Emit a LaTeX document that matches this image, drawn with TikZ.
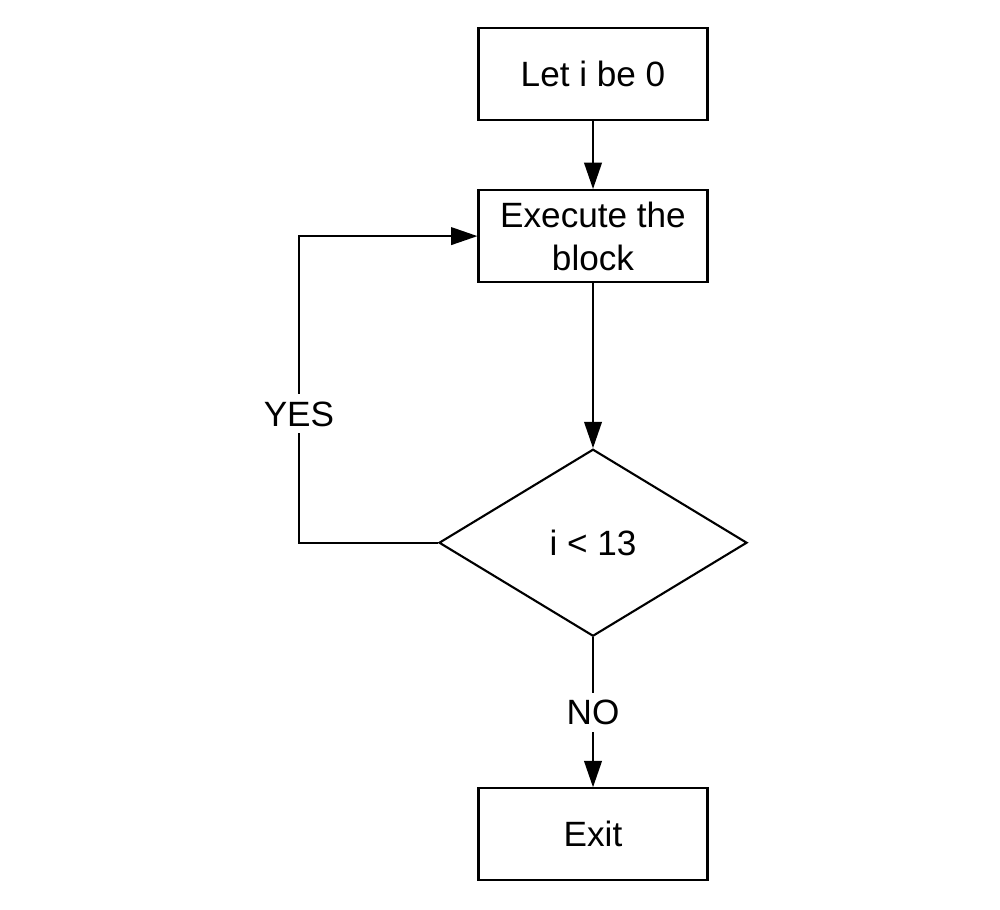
\documentclass[tikz,border=0pt]{standalone}
\usepackage{fontspec}
\setmainfont{Liberation Sans}
\usetikzlibrary{arrows.meta,positioning,shapes.geometric,calc}

\begin{document}
\begin{tikzpicture}[
    font=\fontsize{10}{12.2}\selectfont,
    line width=0.6pt,
    box/.style={rectangle, draw, minimum width=2.29cm, minimum height=0.92cm, align=center, inner sep=1pt},
    decision/.style={diamond, draw, minimum width=3.08cm, minimum height=1.87cm, inner sep=0pt, align=center},
    arrow/.style={-{Triangle[length=7.5pt,width=5pt]}},
    tag/.style={fill=white, inner sep=2pt}
]
\useasboundingbox (0,0) rectangle (10,9.09);
\node[box] (init) at (5.93,8.35) {Let i be 0};
\node[box, below=0.68cm of init] (exec) {Execute the\\block};
\node[decision, below=1.65cm of exec] (cond) {i < 13};
\node[box, below=1.50cm of cond] (exit) {Exit};

\draw[arrow] (init) -- (exec);
\draw[arrow] (exec) -- (cond);
\draw[arrow] (cond.west) -- ++(-1.39,0) |- node[pos=0.21, tag] {YES} (exec.west);
\draw[arrow] (cond) -- node[tag] {NO} (exit);
\end{tikzpicture}
\end{document}
